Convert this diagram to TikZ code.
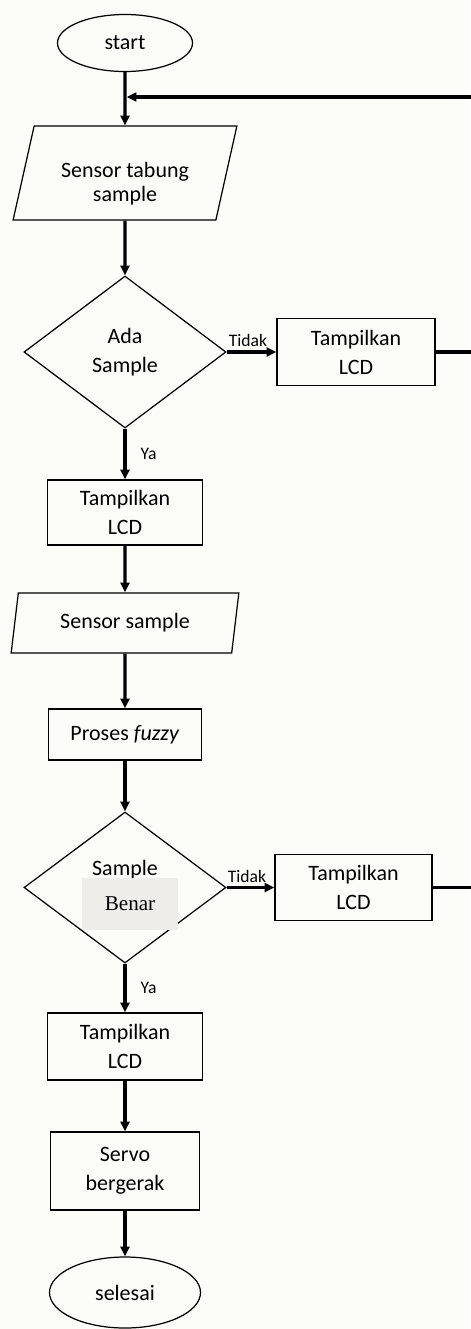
\documentclass[tikz,border=0pt]{standalone}
\usepackage{fontspec}
\setmainfont{Carlito}
\newfontfamily\patchfont{Liberation Serif}
\usetikzlibrary{shapes.geometric}
\usetikzlibrary{arrows.meta}
\definecolor{paper}{HTML}{FCFCF8}
\definecolor{patch}{HTML}{EEEDEA}

\begin{document}
\begin{tikzpicture}
  [>={Triangle[length=5.5pt,width=5pt]},
  term/.style={ellipse,draw=black,line width=0.7pt,inner sep=0pt},
  io/.style={trapezium,trapezium left angle=77,trapezium right angle=103,trapezium stretches=true,draw=black,line width=0.7pt,inner sep=0pt,align=center},
  proc/.style={rectangle,draw=black,line width=0.7pt,inner sep=0pt,align=center},
  decide/.style={diamond,draw=black,line width=0.7pt,inner sep=0pt,align=center},
  flow/.style={->,black,line width=1.8pt},
  wire/.style={black,line width=1.8pt},
  tag/.style={font=\fontsize{10}{12}\selectfont,inner sep=2pt},
  font=\fontsize{12.5}{16.5}\selectfont]
  \useasboundingbox[fill=paper] (0,0) rectangle (9.4,-26.58);

  \node[term,minimum width=2.7cm,minimum height=1.14cm] (start) at (2.5,-0.86) {start};
  \coordinate (join) at (2.5,-1.94);
  \node[io,minimum width=4.5cm,minimum height=1.88cm] (in1) at (2.5,-3.46) {\rule{0pt}{21pt}Sensor tabung\\[-3pt]sample};
  \node[decide,minimum width=4.04cm,minimum height=3.04cm] (dec1) at (2.5,-7.04) {Ada\\Sample};
  \node[proc,minimum width=3.16cm,minimum height=1.34cm] (lcdA) at (7.12,-7.04) {Tampilkan\\LCD};
  \node[proc,minimum width=3.1cm,minimum height=1.3cm] (lcd1) at (2.5,-10.25) {Tampilkan\\LCD};
  \node[io,minimum width=4.56cm,minimum height=1.2cm] (in2) at (2.5,-12.46) {Sensor sample};
  \node[proc,minimum width=3.06cm,minimum height=1.02cm] (fuzzy) at (2.5,-14.69) {Proses \textit{fuzzy}};
  \node[decide,minimum width=4.04cm,minimum height=3.02cm,text depth=0.78cm] (dec2) at (2.5,-17.75) {Sample};
  \node[fill=patch,minimum width=1.92cm,minimum height=1.04cm,inner sep=0pt,font=\patchfont\fontsize{12}{14}\selectfont] (benar) at (2.6,-18.08) {Benar};
  \node[proc,minimum width=3.14cm,minimum height=1.32cm] (lcdB) at (7.07,-17.75) {Tampilkan\\LCD};
  \node[proc,minimum width=3.1cm,minimum height=1.34cm] (lcd2) at (2.5,-20.93) {Tampilkan\\LCD};
  \node[proc,minimum width=2.98cm,minimum height=1.56cm] (servo) at (2.5,-23.42) {Servo\\bergerak};
  \node[term,minimum width=3.02cm,minimum height=1.42cm] (stop) at (2.5,-25.85) {selesai};
  \coordinate (back) at (9.7,-1.94);

  \draw [flow] (start) -- (in1);
  \draw [flow] (in1) -- (dec1);
  \draw [flow] (dec1) -- node[tag,above,xshift=-2pt] {Tidak} (lcdA);
  \draw [flow] (dec1) -- node[tag,right=6pt] {Ya} (lcd1);
  \draw [flow] (lcd1) -- (in2);
  \draw [flow] (in2) -- (fuzzy);
  \draw [flow] (fuzzy) -- (dec2);
  \draw [flow] (dec2.east) -- node[tag,above,xshift=-2pt] {Tidak} (lcdB);
  \draw [flow] (dec2) -- node[tag,right=6pt] {Ya} (lcd2);
  \draw [flow] (lcd2) -- (servo);
  \draw [flow] (servo) -- (stop);

  \draw [wire] (lcdA) -| (back);
  \draw [wire] (lcdB) -| (back);
  \draw [flow] (back) -- ([xshift=1pt]join);

\end{tikzpicture}
\end{document}
